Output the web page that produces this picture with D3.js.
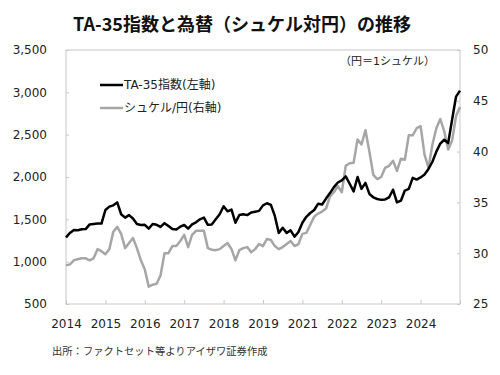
<!DOCTYPE html>
<html>
<head>
<meta charset="utf-8">
<script src="https://cdn.jsdelivr.net/npm/d3@7"></script>
<style>
  body { margin: 0; background: #fff; }
  text { font-family: "DejaVu Sans", "Noto Sans CJK JP", sans-serif; fill: #222; }
</style>
</head>
<body>
<svg id="chart" width="500" height="375"></svg>
<script>
// TA-35 index (left axis), evenly spaced observations
const ta35 = [
  1285, 1340, 1375, 1372, 1382, 1385, 1440, 1445, 1450, 1450,
  1610, 1650, 1665, 1700, 1560, 1520, 1550, 1510, 1445, 1433,
  1435, 1390, 1445, 1435, 1410, 1455, 1420, 1385, 1380, 1413,
  1433, 1390, 1440, 1465, 1500, 1520, 1435, 1440, 1500, 1560,
  1655, 1595, 1615, 1460, 1551, 1560, 1550, 1580, 1590, 1600,
  1665, 1690, 1670, 1540, 1340, 1400, 1340, 1370, 1295, 1350,
  1460, 1530, 1575, 1610, 1685, 1675, 1745, 1810, 1880, 1935,
  1960, 2008, 1920, 1830, 2000, 1860, 1930, 1800, 1760, 1740,
  1730, 1735, 1760, 1850, 1700, 1720, 1840, 1860, 1990, 1970,
  1995, 2030, 2095, 2180, 2300, 2395, 2440, 2400, 2680, 2950,
  3020
];
// Shekel in yen (right axis)
const ilsJpy = [
  28.8, 28.9, 29.3, 29.4, 29.5, 29.5, 29.3, 29.5, 30.4, 30.2,
  29.9, 30.4, 32.1, 32.6, 31.9, 30.5, 31.0, 31.5, 30.5, 29.3,
  28.4, 26.7, 26.9, 27.0, 27.8, 30.0, 30.0, 30.7, 30.7, 31.2,
  31.8, 30.6, 31.8, 32.2, 32.2, 32.2, 30.5, 30.35, 30.3, 30.4,
  30.7, 31.0, 30.4, 29.3, 30.3, 30.5, 30.6, 30.1, 30.4, 30.9,
  30.7, 31.4, 31.3, 30.7, 30.4, 30.6, 30.9, 31.2, 30.7, 30.9,
  31.9, 32.0, 32.8, 33.6, 33.9, 34.1, 34.4, 35.6, 36.0, 36.6,
  36.0, 38.6, 38.85, 38.9, 41.2, 40.7, 42.1, 40.0, 37.7, 37.3,
  37.5, 38.4, 38.6, 39.1, 38.1, 39.3, 39.2, 41.6, 41.6, 42.3,
  42.5, 39.7, 38.4, 40.7, 42.3, 43.2, 42.0, 40.2, 41.1, 43.5,
  44.4
];
const yearLabels = ["2014", "2015", "2016", "2017", "2018", "2019", "2021", "2022", "2023", "2024"];
const yearTickPos = [0, 10, 20, 30, 40, 50, 60, 70, 80, 90, 100];
const leftTicks = [500, 1000, 1500, 2000, 2500, 3000, 3500];
const rightTicks = [25, 30, 35, 40, 45, 50];

const svg = d3.select("#chart");
const plotL = 66, plotR = 460, plotT = 50, plotB = 304;

const x = d3.scaleLinear().domain([0, ta35.length - 1]).range([plotL, plotR]);
const yL = d3.scaleLinear().domain([500, 3500]).range([plotB, plotT]);
const yR = d3.scaleLinear().domain([25, 50]).range([plotB, plotT]);

// title
svg.append("text")
  .attr("x", 242).attr("y", 31)
  .attr("text-anchor", "middle")
  .style("font-family", "'Noto Sans CJK JP', sans-serif")
  .style("font-weight", "bold")
  .style("font-size", "18px")
  .style("fill", "#111")
  .text("TA-35指数と為替（シュケル対円）の推移");

// frame
svg.append("rect")
  .attr("x", plotL).attr("y", plotT)
  .attr("width", plotR - plotL).attr("height", plotB - plotT)
  .attr("fill", "none").attr("stroke", "#c8c8c8").attr("stroke-width", 1);

const styleAxis = g => {
  g.select(".domain").remove();
  g.selectAll("line").attr("stroke", "#c8c8c8");
  g.selectAll("text").style("font-size", "12px").style("fill", "#222")
    .style("font-family", "'DejaVu Sans', sans-serif");
};

svg.append("g").attr("transform", `translate(${plotL},0)`)
  .call(d3.axisLeft(yL).tickValues(leftTicks).tickFormat(d3.format(",")).tickSize(-3).tickPadding(19))
  .call(styleAxis);

svg.append("g").attr("transform", `translate(${plotR},0)`)
  .call(d3.axisRight(yR).tickValues(rightTicks).tickSize(-3).tickPadding(13))
  .call(styleAxis);

svg.append("g").attr("transform", `translate(0,${plotB})`)
  .call(d3.axisBottom(x).tickValues(yearTickPos)
    .tickFormat((d, i) => yearLabels[i] || "").tickSize(-4).tickPadding(15))
  .call(styleAxis);

// lines
const lineR = d3.line().x((d, i) => x(i)).y(d => yR(d));
const lineL = d3.line().x((d, i) => x(i)).y(d => yL(d));

svg.append("path").datum(ilsJpy)
  .attr("fill", "none").attr("stroke", "#a6a6a6").attr("stroke-width", 2.5)
  .attr("stroke-linejoin", "round").attr("d", lineR);

svg.append("path").datum(ta35)
  .attr("fill", "none").attr("stroke", "#000").attr("stroke-width", 2.5)
  .attr("stroke-linejoin", "round").attr("d", lineL);

// legend
const legend = [
  { label: "TA-35指数(左軸)", color: "#000", y: 85 },
  { label: "シュケル/円(右軸)", color: "#a6a6a6", y: 108 }
];
legend.forEach(d => {
  svg.append("line")
    .attr("x1", 100).attr("x2", 123).attr("y1", d.y).attr("y2", d.y)
    .attr("stroke", d.color).attr("stroke-width", 2.5);
  svg.append("text")
    .attr("x", 124).attr("y", d.y).attr("dy", "0.35em")
    .style("font-size", "12px")
    .text(d.label);
});

svg.append("text")
  .attr("x", 340).attr("y", 61).attr("dy", "0.35em")
  .style("font-size", "11px")
  .text("（円＝1シュケル）");

svg.append("text")
  .attr("x", 52).attr("y", 355)
  .style("font-size", "10.3px")
  .style("fill", "#333")
  .text("出所：ファクトセット等よりアイザワ証券作成");
</script>
</body>
</html>
